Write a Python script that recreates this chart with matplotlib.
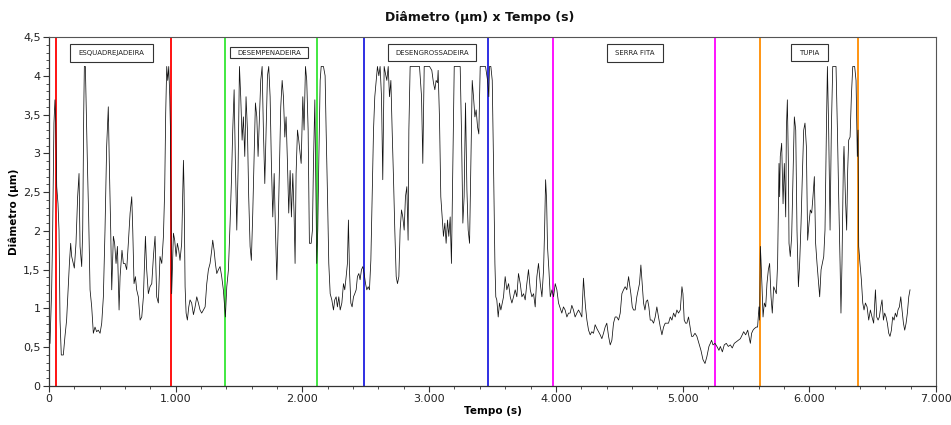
import matplotlib
matplotlib.use('Agg')
import matplotlib.pyplot as plt
from matplotlib.ticker import FuncFormatter, MultipleLocator
from matplotlib.patches import Rectangle
from matplotlib.transforms import ScaledTranslation

plt.rcParams['font.family'] = ['DejaVu Sans']

# ---------------- data (time in s, diameter in um) ----------------
time_a = [8, 21, 29, 39, 47, 53, 61, 71, 79, 87, 97, 113, 126, 139, 153, 161, 171, 179, 192, 200,
          213, 226, 237, 245, 258, 266, 274, 279, 287, 292, 303, 313, 324, 337, 350, 363, 376, 389, 403, 416,
          429, 442, 455, 468, 476, 487, 495, 508, 518, 529, 540, 553, 561, 576, 587, 600, 613, 626, 640, 653,
          661, 671, 682, 692, 705, 719, 732, 745, 761, 771, 784, 797, 811, 824, 837, 850, 863, 876, 890, 903,
          913, 921, 929, 937, 945, 953, 958]
diam_a = [0.55, 1.24, 2.01, 3.39, 3.69, 3.43, 2.57, 2.35, 2.01, 0.85, 0.40, 0.40, 0.64, 0.85, 1.32, 1.58, 1.84, 1.67, 1.58, 1.52,
          1.84, 2.44, 2.74, 1.80, 1.54, 2.01, 3.52, 4.12, 4.12, 3.73, 2.87, 2.18, 1.24, 1.02, 0.68, 0.76, 0.70, 0.72, 0.68, 0.81,
          1.15, 2.01, 3.09, 3.60, 2.87, 2.01, 1.24, 1.93, 1.84, 1.58, 1.80, 0.98, 1.41, 1.75, 1.58, 1.58, 1.50, 1.84, 2.23, 2.44,
          2.01, 1.32, 1.41, 1.24, 1.15, 0.85, 0.89, 1.15, 1.93, 1.50, 1.19, 1.28, 1.32, 1.67, 1.93, 1.15, 1.07, 1.67, 1.58, 1.93,
          2.53, 3.52, 4.12, 3.94, 4.12, 3.73, 3.34]

time_b = [968, 982, 992, 1003, 1013, 1024, 1034, 1047, 1061, 1066, 1074, 1082, 1092, 1103, 1113, 1126, 1140, 1153, 1166, 1179,
          1192, 1205, 1219, 1232, 1245, 1258, 1271, 1284, 1292, 1303, 1313, 1324, 1337, 1350, 1363, 1376, 1384, 1392, 1403, 1416,
          1429, 1440, 1450, 1461, 1471, 1482, 1492, 1503, 1513, 1524, 1534, 1545, 1555, 1566, 1576, 1587, 1597, 1608, 1619, 1629,
          1640, 1650, 1661, 1671, 1682, 1692, 1703, 1713, 1724, 1734, 1745, 1755, 1766, 1777, 1787, 1798, 1808, 1819, 1829, 1840,
          1850, 1861, 1871, 1882, 1892, 1903, 1913, 1924, 1934, 1942, 1950, 1961, 1971]
diam_b = [1.19, 1.97, 1.88, 1.67, 1.84, 1.75, 1.62, 1.84, 2.91, 2.53, 1.28, 0.94, 0.85, 1.02, 1.11, 1.07, 0.92, 1.02, 1.15, 1.07,
          0.98, 0.94, 0.98, 1.02, 1.32, 1.50, 1.58, 1.75, 1.88, 1.75, 1.58, 1.45, 1.50, 1.54, 1.41, 1.24, 1.07, 0.89, 1.28, 1.50,
          2.10, 2.66, 3.30, 3.82, 2.87, 2.01, 2.78, 4.12, 3.73, 3.17, 3.47, 2.96, 3.73, 3.30, 2.44, 1.80, 1.62, 2.23, 2.96, 3.65,
          3.47, 2.96, 3.47, 3.94, 4.12, 3.30, 2.61, 3.30, 4.00, 4.12, 3.73, 2.87, 2.18, 2.74, 2.01, 1.37, 2.01, 2.87, 3.60, 3.94,
          3.73, 3.21, 3.47, 2.87, 2.23, 2.78, 2.18, 2.74, 2.23, 1.58, 2.74, 3.30, 3.17]

time_c = [1990, 2003, 2013, 2024, 2034, 2045, 2055, 2069, 2079, 2087, 2098, 2105, 2113, 2121, 2129, 2140, 2148, 2166, 2179, 2187,
          2198, 2208, 2219, 2232, 2245, 2255, 2266, 2276, 2287, 2298, 2311, 2324, 2334, 2345, 2355, 2363, 2371, 2382, 2392, 2403,
          2413, 2424, 2434, 2445, 2455, 2466, 2477, 2487, 2498, 2508, 2519, 2529, 2540, 2550, 2561, 2571, 2582, 2592, 2603, 2613,
          2624, 2634, 2645, 2655, 2666, 2677, 2687, 2698, 2708, 2719, 2729, 2740, 2750, 2761, 2771, 2782, 2792, 2803, 2813, 2824,
          2834, 2840, 2850, 2877, 2903, 2924, 2940, 2950, 2961, 2987, 3003]
diam_c = [2.87, 3.73, 3.30, 4.12, 3.94, 3.30, 1.84, 1.84, 2.01, 2.87, 3.69, 2.66, 1.58, 2.01, 2.87, 3.94, 4.12, 4.12, 4.00, 3.30,
          2.44, 1.58, 1.19, 1.11, 0.98, 1.11, 1.15, 1.02, 1.15, 0.98, 1.07, 1.32, 1.24, 1.41, 1.58, 2.14, 1.50, 1.07, 1.02, 1.15,
          1.19, 1.24, 1.41, 1.45, 1.37, 1.50, 1.54, 1.45, 1.32, 1.24, 1.28, 1.24, 1.62, 2.44, 3.30, 3.73, 3.94, 4.12, 4.00, 4.12,
          3.73, 2.66, 4.12, 4.03, 3.94, 4.12, 3.73, 3.94, 3.30, 2.66, 2.01, 1.41, 1.32, 1.41, 2.01, 2.27, 2.18, 2.01, 2.44, 2.57,
          1.88, 3.30, 4.12, 4.12, 4.12, 4.12, 3.73, 2.87, 4.12, 4.12, 4.12]

time_d = [3021, 3034, 3045, 3055, 3066, 3071, 3082, 3092, 3103, 3113, 3124, 3134, 3145, 3155, 3166, 3176, 3187, 3198, 3219, 3245,
          3255, 3266, 3276, 3287, 3298, 3308, 3319, 3329, 3340, 3350, 3361, 3371, 3382, 3392, 3403, 3429, 3445, 3461, 3471, 3476,
          3487, 3498, 3508, 3519, 3526, 3534, 3545, 3555, 3566, 3577, 3587, 3600, 3613, 3627, 3640, 3653, 3666, 3679, 3692, 3705,
          3719, 3732, 3745, 3758, 3771, 3784, 3798, 3811, 3824, 3837, 3850, 3863, 3877, 3890, 3903, 3911, 3919, 3927, 3934, 3945,
          3956, 3969, 3982, 3995, 4008, 4021]
diam_d = [4.07, 3.91, 3.82, 3.94, 3.91, 4.07, 3.43, 2.44, 2.18, 1.93, 2.10, 1.84, 2.14, 1.93, 2.18, 1.58, 2.87, 4.12, 4.12, 4.12,
          3.30, 2.10, 2.44, 3.65, 2.53, 2.01, 1.84, 2.87, 3.94, 3.73, 3.47, 3.56, 3.34, 3.25, 4.12, 4.12, 4.12, 3.94, 3.73, 4.12,
          4.12, 3.94, 2.87, 1.58, 1.15, 1.11, 0.89, 1.07, 0.98, 1.07, 1.15, 1.41, 1.24, 1.32, 1.15, 1.07, 1.15, 1.24, 1.15, 1.45,
          1.32, 1.15, 1.19, 1.11, 1.32, 1.50, 1.24, 1.15, 1.19, 1.02, 1.41, 1.58, 1.32, 1.15, 1.50, 2.01, 2.66, 2.40, 1.80, 1.50,
          1.15, 1.24, 1.15, 1.32, 1.24, 1.07]

time_e = [4047, 4060, 4073, 4087, 4100, 4113, 4126, 4139, 4152, 4166, 4179, 4192, 4205, 4218, 4226, 4234, 4245, 4258, 4271, 4284,
          4297, 4310, 4324, 4337, 4350, 4363, 4376, 4389, 4402, 4416, 4429, 4442, 4455, 4468, 4481, 4495, 4508, 4521, 4534, 4547,
          4560, 4574, 4581, 4592, 4603, 4613, 4626, 4639, 4650, 4660, 4671, 4681, 4692, 4703, 4713, 4724, 4734, 4745, 4758, 4771,
          4784, 4797, 4810, 4824, 4837, 4850, 4863, 4876, 4889, 4903, 4916, 4929, 4942, 4955, 4968, 4982, 4995, 5003, 5013, 5024,
          5034, 5047]
diam_e = [0.94, 1.02, 0.98, 0.89, 0.94, 0.94, 1.04, 0.98, 0.89, 0.94, 0.98, 0.94, 0.89, 1.39, 1.19, 1.02, 0.85, 0.72, 0.66, 0.70,
          0.68, 0.79, 0.74, 0.70, 0.66, 0.61, 0.68, 0.76, 0.81, 0.64, 0.53, 0.59, 0.81, 0.89, 0.89, 0.85, 0.94, 1.19, 1.24, 1.28,
          1.24, 1.41, 1.32, 1.19, 1.02, 0.98, 0.98, 1.15, 1.24, 1.32, 1.56, 1.32, 1.07, 0.98, 1.09, 1.11, 1.02, 0.85, 0.85, 0.81,
          0.89, 1.02, 0.89, 0.76, 0.66, 0.76, 0.81, 0.81, 0.81, 0.89, 0.85, 0.94, 0.89, 0.98, 0.94, 0.98, 1.28, 1.19, 0.85, 0.81,
          0.81, 0.89]

time_f = [5071, 5082, 5098, 5113, 5129, 5145, 5161, 5177, 5192, 5208, 5219, 5229, 5240, 5256, 5271, 5287, 5298, 5314, 5329, 5345,
          5361, 5377, 5392, 5408, 5424, 5440, 5456, 5471, 5482, 5498, 5514, 5524, 5535, 5545, 5556, 5566, 5582, 5592, 5603, 5608,
          5614, 5619, 5627, 5635, 5645, 5656, 5666, 5677, 5687, 5698, 5708, 5719, 5729, 5740, 5750, 5761, 5766, 5771, 5782, 5793,
          5803, 5814, 5819, 5827, 5835, 5840, 5850, 5861, 5871, 5882, 5893, 5903, 5914, 5924, 5935, 5945, 5956, 5966, 5977, 5987,
          5998, 6008, 6019, 6029, 6040, 6050, 6061, 6071, 6082, 6093, 6103, 6114, 6124, 6135]
diam_f = [0.64, 0.64, 0.68, 0.64, 0.55, 0.46, 0.34, 0.29, 0.38, 0.51, 0.55, 0.59, 0.53, 0.55, 0.51, 0.46, 0.51, 0.44, 0.53, 0.55,
          0.51, 0.53, 0.49, 0.55, 0.57, 0.59, 0.61, 0.66, 0.70, 0.66, 0.72, 0.64, 0.55, 0.68, 0.72, 0.74, 0.76, 0.76, 1.02, 0.85,
          1.80, 1.62, 1.28, 0.89, 1.07, 1.02, 1.32, 1.50, 1.58, 1.15, 0.94, 1.28, 1.24, 1.19, 1.58, 2.87, 2.44, 2.96, 3.13, 2.35,
          2.87, 2.18, 3.30, 3.69, 2.87, 1.84, 1.67, 1.93, 2.66, 3.47, 3.30, 2.01, 1.28, 1.58, 2.10, 2.70, 3.30, 3.39, 3.09, 1.88,
          2.10, 2.27, 2.23, 2.44, 2.70, 1.84, 1.58, 1.37, 1.15, 1.50, 1.58, 1.67, 2.01, 3.30]

time_g = [6143, 6153, 6164, 6174, 6185, 6200, 6211, 6222, 6232, 6243, 6250, 6258, 6269, 6274, 6285, 6295, 6303, 6311, 6322, 6332,
          6343, 6358, 6369, 6379, 6385, 6390, 6400, 6411, 6422, 6432, 6443, 6456, 6469, 6482, 6495, 6508, 6522, 6532, 6543, 6553,
          6564, 6574, 6585, 6595, 6606, 6616, 6627, 6637, 6648, 6658, 6669, 6679, 6690, 6700, 6711, 6722, 6732, 6743, 6753, 6764,
          6774, 6785, 6795]
diam_g = [4.12, 3.30, 2.01, 3.30, 4.12, 4.12, 4.12, 3.30, 2.44, 1.58, 0.94, 1.58, 2.87, 3.09, 2.44, 2.01, 2.78, 3.17, 3.21, 3.73,
          4.12, 4.12, 3.94, 2.96, 3.30, 1.80, 1.58, 1.37, 1.07, 0.98, 1.07, 1.02, 0.85, 0.98, 0.89, 0.81, 1.24, 0.89, 0.85, 0.89,
          1.02, 1.11, 0.85, 0.94, 0.89, 0.81, 0.68, 0.64, 0.72, 0.89, 0.85, 0.94, 0.89, 0.98, 1.02, 1.15, 0.98, 0.81, 0.72, 0.81,
          0.94, 1.15, 1.24]

# machine boundaries (s) and machine names
boundary_times = [55, 966, 1390, 2117, 2486, 3462, 3978, 5253, 5608, 6388]
machine_names = ['ESQUADREJADEIRA', 'DESEMPENADEIRA', 'DESENGROSSADEIRA', 'SERRA FITA', 'TUPIA']
machine_label_x = [494, 1738, 3023, 4621, 6001]

x_ticks = [0, 1000, 2000, 3000, 4000, 5000, 6000, 7000]
y_ticks = [0, 0.5, 1, 1.5, 2, 2.5, 3, 3.5, 4, 4.5]

# ---------------- styles / layout ----------------
boundary_colors = ['#ff0000', '#ff0000', '#33e633', '#33e633', '#1f1fe0', '#1f1fe0',
                   '#ff00ff', '#ff00ff', '#ff8c00', '#ff8c00']
box_sizes_px = [(83, 18), (78, 11), (88, 17), (56, 18), (37, 17)]
label_y = 4.30

time_s = time_a + time_b + time_c + time_d + time_e + time_f + time_g
diam = diam_a + diam_b + diam_c + diam_d + diam_e + diam_f + diam_g

W, H = 951, 425
fig = plt.figure(figsize=(W / 100, H / 100), dpi=100)
ax = fig.add_axes([49 / W, 1 - 386 / H, (936 - 49) / W, (386 - 37) / H])

ax.plot(time_s, diam, color='#111111', lw=0.55, zorder=3)
for t, c in zip(boundary_times, boundary_colors):
    ax.axvline(t, color=c, lw=1.3, zorder=2)

ax.set_xlim(0, 7000)
ax.set_ylim(0, 4.5)
ax.set_xticks(x_ticks)
ax.set_yticks(y_ticks)
ax.xaxis.set_minor_locator(MultipleLocator(200))
ax.yaxis.set_minor_locator(MultipleLocator(0.1))


def fmt_x(v, pos):
    return f"{int(round(v)):,}".replace(',', '.')


def fmt_y(v, pos):
    s = f"{v:g}"
    return s.replace('.', ',')


ax.xaxis.set_major_formatter(FuncFormatter(fmt_x))
ax.yaxis.set_major_formatter(FuncFormatter(fmt_y))
ax.tick_params(axis='both', which='major', direction='out', length=4, width=0.8,
               colors='#333333', labelsize=8, labelcolor='#222222', pad=2)
ax.tick_params(axis='both', which='minor', direction='out', length=2.5, width=0.6, colors='#333333')

for side in ['left', 'bottom']:
    ax.spines[side].set_color('#333333')
    ax.spines[side].set_linewidth(0.9)
for side in ['top', 'right']:
    ax.spines[side].set_color('#555555')
    ax.spines[side].set_linewidth(0.8)

# machine label boxes
for name, lx, (bw, bh) in zip(machine_names, machine_label_x, box_sizes_px):
    trans = fig.dpi_scale_trans + ScaledTranslation(lx, label_y, ax.transData)
    rect = Rectangle((-bw / 200, -bh / 200), bw / 100, bh / 100, transform=trans,
                     facecolor='white', edgecolor='#333333', lw=0.8, zorder=4)
    ax.add_patch(rect)
    ax.text(lx, label_y, name, ha='center', va='center', fontsize=5, color='#222222', zorder=5)

fig.text(480 / W, 1 - 18 / H, 'Diâmetro (µm) x Tempo (s)', ha='center', va='center',
         fontsize=9, fontweight='bold', color='#111111')
ax.set_xlabel('Tempo (s)', fontsize=7.5, fontweight='bold', labelpad=1)
ax.set_ylabel('Diâmetro (µm)', fontsize=7.5, fontweight='bold', labelpad=3)

fig.savefig('out.png', dpi=100)
